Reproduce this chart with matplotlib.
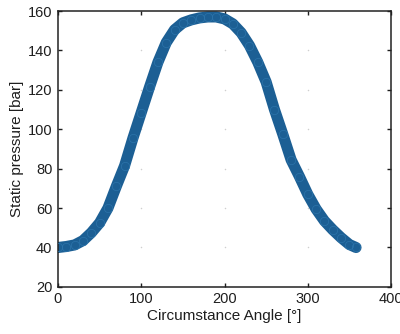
import numpy as np
import matplotlib
matplotlib.use('Agg')
import matplotlib.pyplot as plt

plt.rcParams['font.family'] = ['Liberation Sans', 'DejaVu Sans']

# circumferential angle [deg] and static pressure [bar]
angle = [0, 10, 20, 30, 40, 50, 60, 70, 80, 90, 100, 110, 120, 130, 140, 150,
         160, 170, 180, 190, 200, 210, 220, 230, 240, 250, 260, 270, 280, 290,
         300, 310, 320, 330, 340, 350, 358]
pressure = [40, 40.5, 41.3, 43.5, 47.5, 52.5, 60, 71, 81.5, 95.5, 108.5, 121.5,
            134, 144, 150.5, 154, 155.5, 156.5, 157, 157, 156, 153.5, 149, 142.5,
            134, 124, 110, 97.5, 84.5, 76, 67, 59.5, 53.5, 49, 45, 41.5, 40]

xticks = [0, 100, 200, 300, 400]
yticks = [20, 40, 60, 80, 100, 120, 140, 160]

blue = '#1c5f94'
txt = '#1e1e1e'

fig = plt.figure(figsize=(4.0, 3.34), dpi=100)
ax = fig.add_axes([0.145, 0.141, 0.8325, 0.826])

# faint grid dots at the tick intersections (as in the MATLAB export)
gx, gy = np.meshgrid(xticks[1:-1], yticks[1:-1])
ax.scatter(gx.ravel(), gy.ravel(), s=1.2, color='#cfcfcf', zorder=1, linewidths=0)

ax.plot(angle, pressure, color=blue, lw=8, solid_capstyle='round',
        solid_joinstyle='round', zorder=2)
ax.plot(angle, pressure, 'o', ms=6, mfc='none', mec='#2c74ab', mew=0.5, zorder=3)

ax.set_xlim(0, 400)
ax.set_ylim(20, 160)
ax.set_xticks(xticks)
ax.set_yticks(yticks)
ax.tick_params(direction='in', length=3, width=1, top=True, right=True,
               labelsize=10.5, colors=txt, pad=4)
for s in ax.spines.values():
    s.set_linewidth(1.1)
    s.set_color('#222222')

ax.set_xlabel('Circumstance Angle [°]', fontsize=11, color=txt, labelpad=2)
ax.set_ylabel('Static pressure [bar]', fontsize=11, color=txt, labelpad=3)

fig.savefig('out.png', dpi=100)
